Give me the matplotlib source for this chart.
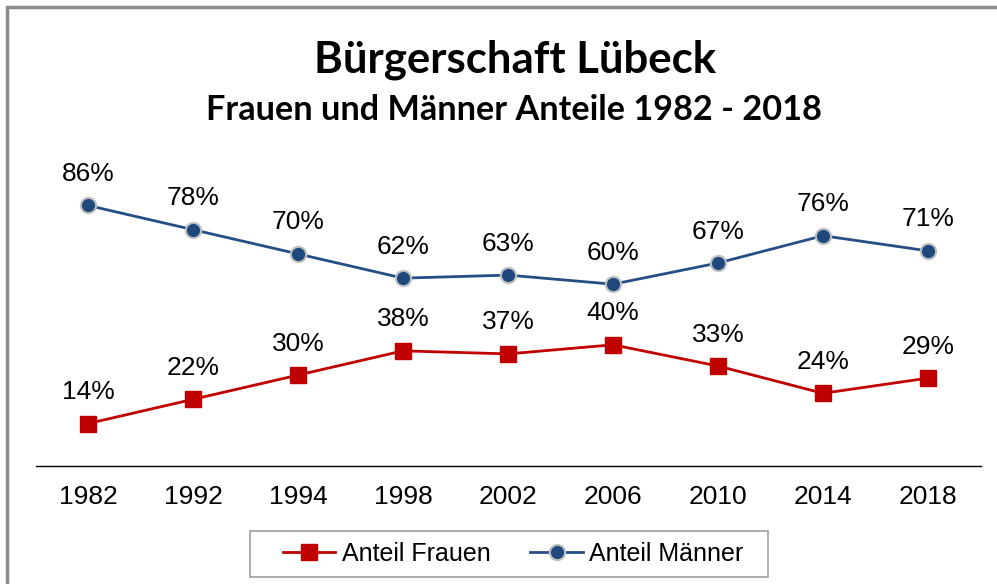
import matplotlib.pyplot as plt
from matplotlib.patches import Rectangle

years = ["1982", "1992", "1994", "1998", "2002", "2006", "2010", "2014", "2018"]
frauen = [14, 22, 30, 38, 37, 40, 33, 24, 29]
maenner = [86, 78, 70, 62, 63, 60, 67, 76, 71]

red = "#C00000"
blue = "#254E85"

fig = plt.figure(figsize=(9.97, 5.84), dpi=100)
ax = fig.add_axes([35.5 / 997, (584 - 466) / 584, 945 / 997, 303 / 584])

x = range(len(years))
ax.plot(x, frauen, color=red, lw=2, marker="s", ms=11, mfc=red, mec=red,
        label="Anteil Frauen")
ax.plot(x, maenner, color=blue, lw=2, marker="o", ms=11, mfc="#1F497D",
        mec="#C0C0C0", mew=1.5, label="Anteil Männer")

for i in x:
    ax.annotate(f"{frauen[i]}%", (i, frauen[i]), xytext=(0, 14),
                textcoords="offset points", ha="center", va="bottom",
                fontsize=19, family="Liberation Sans")
    ax.annotate(f"{maenner[i]}%", (i, maenner[i]), xytext=(0, 14),
                textcoords="offset points", ha="center", va="bottom",
                fontsize=19, family="Liberation Sans")

ax.set_xlim(-0.5, len(years) - 0.5)
ax.set_ylim(0, 100)
ax.set_xticks(list(x))
ax.set_xticklabels(years, fontsize=19, family="Liberation Sans")
ax.tick_params(axis="x", length=0, pad=14)
ax.set_yticks([])
for s in ["top", "right", "left"]:
    ax.spines[s].set_visible(False)
ax.spines["bottom"].set_color("black")
ax.spines["bottom"].set_linewidth(1)

fig.text(515 / 997, 1 - 60 / 584, "Bürgerschaft Lübeck", ha="center",
         va="center", fontsize=31.5, fontweight="bold", family="Lato")
fig.text(514 / 997, 1 - 110 / 584, "Frauen und Männer Anteile 1982 - 2018",
         ha="center", va="center", fontsize=24.7, fontweight="bold", family="Lato")

# legend without its own frame, box drawn separately (wide side padding)
leg = fig.legend(loc="center", bbox_to_anchor=(513 / 997, 1 - 554 / 584),
                 ncol=2, frameon=False,
                 prop={"family": "Liberation Sans", "size": 18},
                 handlelength=2.1, handletextpad=0.25, columnspacing=1.6,
                 borderpad=0.35, borderaxespad=0)
fig.patches.append(Rectangle((250 / 997, 1 - 577 / 584), 518 / 997, 46 / 584,
                             transform=fig.transFigure, fill=False,
                             edgecolor="#A0A0A0", lw=1.2))

fig.patches.append(Rectangle((7 / 997, -0.1), 1.2, 1 - 7 / 584 + 0.1,
                             transform=fig.transFigure, fill=False,
                             edgecolor="#8C8C8C", lw=2.5))

fig.savefig("out.png", dpi=100)
